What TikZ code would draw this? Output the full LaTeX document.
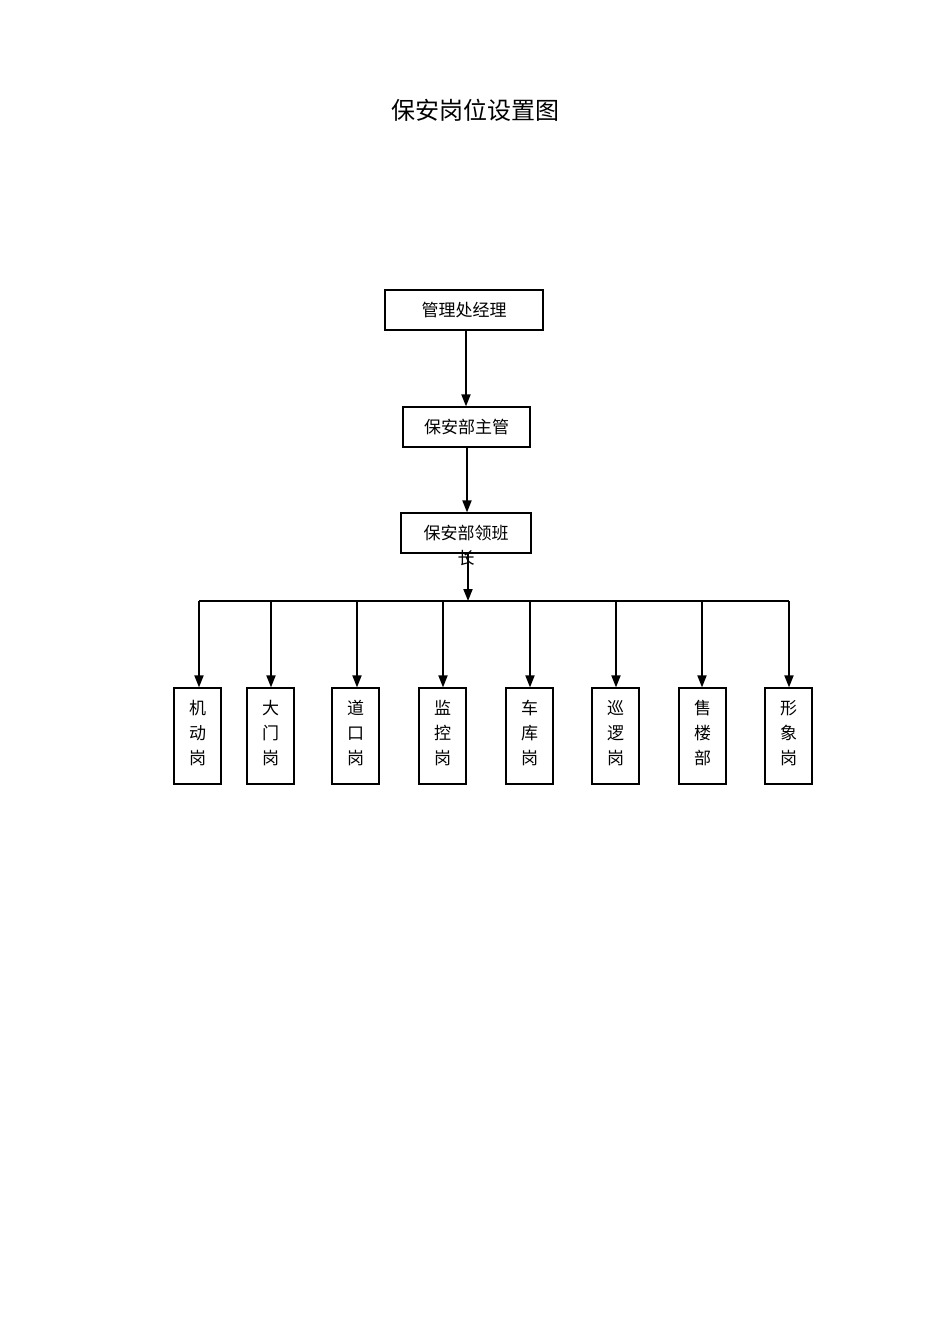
\documentclass[tikz,border=0pt]{standalone}
\usepackage{fontspec}
\newfontfamily\cjk{Noto Sans CJK SC}
\usetikzlibrary{arrows.meta}
\tikzset{
  box/.style={draw=black, line width=1.2pt, fill=white, inner sep=0pt},
  lbl/.style={font=\cjk\fontsize{17}{25}\selectfont, align=center, inner sep=0pt},
  conn/.style={line width=1.8pt, -{Triangle[length=12pt,width=9pt]}},
  bar/.style={line width=1.8pt}
}
\begin{document}
\begin{tikzpicture}[x=1pt,y=-1pt]
\useasboundingbox[fill=white] (0,0) rectangle (950,1344);
\node[font=\cjk\fontsize{24}{28}\selectfont, inner sep=0pt] (title) at (475,110) {保安岗位设置图};
% top boxes
\node[box, minimum width=158pt, minimum height=40pt, lbl] (b1) at (464,310) {管理处经理};
\node[box, minimum width=127pt, minimum height=40pt, lbl] (b2) at (466.5,427) {保安部主管};
\node[box, minimum width=130pt, minimum height=40pt] (b3) at (466,533) {};
\node[lbl] (b3t) at (466,545) {保安部领班\\长};
\draw[conn] (b1.south -| 466,0) -- (b2.north -| 466,0);
\draw[conn] (b2.south -| 467,0) -- (b3.north -| 467,0);
\coordinate (hub) at (468,601);
\draw[conn] (b3.south -| 468,0) -- (hub);
% horizontal bar
\coordinate (barL) at (199,601);
\coordinate (barR) at (789,601);
\draw[bar] (barL) -- (barR);
% children
\foreach \n/\x/\t in {c1/197.5/机\\动\\岗, c2/270.5/大\\门\\岗, c3/355.5/道\\口\\岗, c4/442.5/监\\控\\岗, c5/529.5/车\\库\\岗, c6/615.5/巡\\逻\\岗, c7/702.5/售\\楼\\部, c8/788.5/形\\象\\岗}{
  \node[box, minimum width=47pt, minimum height=96pt] (\n) at (\x,736) {};
  \node[lbl] (\n t) at (\x,733) {\t};
}
\foreach \n/\x in {c1/199, c2/271, c3/357, c4/443, c5/530, c6/616, c7/702, c8/789}{
  \draw[conn] (\x,601) -- (\n.north -| \x,0);
}
\end{tikzpicture}
\end{document}
